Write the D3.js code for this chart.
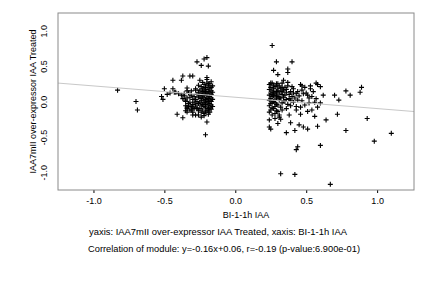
<!DOCTYPE html>
<html>
<head>
<meta charset="utf-8">
<script src="https://cdn.jsdelivr.net/npm/d3@7"></script>
<style>
  body { margin: 0; background: #fff; }
  svg { display: block; font-family: "Liberation Sans", Arial, sans-serif; }
  .tick text, .lbl { font-size: 9px; fill: #000; }
</style>
</head>
<body>
<div id="chart"></div>
<script>
// scatter of module genes: x = BI-1-1h IAA, y = IAA7mII over-expressor IAA Treated
const xTicks = [-1.0, -0.5, 0.0, 0.5, 1.0];
const yTicks = [-1.0, -0.5, 0.0, 0.5, 1.0];
const xTitle = "BI-1-1h IAA";
const yTitle = "IAA7mII over-expressor IAA Treated";
const subLines = [
  "yaxis: IAA7mII over-expressor IAA Treated, xaxis: BI-1-1h IAA",
  "Correlation of module: y=-0.16x+0.06, r=-0.19 (p-value:6.900e-01)"
];
const fitSlope = -0.16;
const fitIntercept = 0.06;

const leftOutliers = [
  [-0.83, 0.16], [-0.70, 0.00], [-0.69, -0.12]
];

const leftCluster = [
  [-0.52, 0.07], [-0.51, 0.03], [-0.50, 0.18], [-0.48, 0.10], [-0.46, 0.12],
  [-0.44, 0.30], [-0.44, 0.18], [-0.43, 0.13], [-0.42, 0.13], [-0.40, 0.11],
  [-0.41, -0.18], [-0.38, 0.30], [-0.37, 0.36], [-0.37, -0.23], [-0.36, 0.11],
  [-0.35, 0.02], [-0.35, -0.06], [-0.34, -0.10], [-0.34, -0.15], [-0.33, -0.03],
  [-0.32, 0.06], [-0.32, 0.36], [-0.31, -0.07], [-0.30, 0.36], [-0.30, -0.19],
  [-0.29, -0.01], [-0.28, 0.16], [-0.27, -0.10], [-0.27, 0.56], [-0.26, -0.19],
  [-0.26, 0.23], [-0.25, 0.30], [-0.24, 0.51], [-0.24, -0.22], [-0.22, 0.60],
  [-0.20, 0.62], [-0.19, 0.50], [-0.20, 0.34], [-0.20, -0.29], [-0.21, -0.47],
  [-0.19, -0.12], [-0.34, 0.19], [-0.34, -0.08], [-0.30, -0.08], [-0.31, -0.12],
  [-0.22, -0.20], [-0.19, 0.25], [-0.20, 0.31],
  [-0.36, 0.08], [-0.34, 0.05], [-0.33, 0.12], [-0.31, 0.09], [-0.30, 0.03],
  [-0.32, -0.01], [-0.35, 0.00], [-0.33, -0.06], [-0.30, -0.04], [-0.29, 0.07],
  [-0.31, 0.15], [-0.34, 0.15], [-0.37, 0.04], [-0.38, 0.09], [-0.32, -0.12],
  [-0.29, -0.10], [-0.35, -0.13], [-0.30, -0.15], [-0.28, -0.19],
  [-0.17, 0.28], [-0.18, 0.25], [-0.19, 0.22], [-0.17, 0.20], [-0.18, 0.18],
  [-0.20, 0.17], [-0.17, 0.15], [-0.19, 0.14], [-0.21, 0.13], [-0.18, 0.12],
  [-0.17, 0.10], [-0.20, 0.09], [-0.22, 0.08], [-0.18, 0.07], [-0.17, 0.05],
  [-0.19, 0.04], [-0.21, 0.03], [-0.18, 0.02], [-0.17, 0.00], [-0.20, -0.01],
  [-0.22, -0.02], [-0.18, -0.03], [-0.17, -0.05], [-0.19, -0.06], [-0.21, -0.08],
  [-0.18, -0.09], [-0.17, -0.11], [-0.20, -0.13], [-0.18, -0.15], [-0.19, -0.18],
  [-0.23, 0.27], [-0.22, 0.24], [-0.24, 0.21], [-0.23, 0.18], [-0.25, 0.16],
  [-0.23, 0.14], [-0.24, 0.11], [-0.22, 0.10], [-0.25, 0.08], [-0.23, 0.06],
  [-0.24, 0.04], [-0.22, 0.01], [-0.25, -0.01], [-0.23, -0.04], [-0.24, -0.06],
  [-0.22, -0.07], [-0.25, -0.10], [-0.23, -0.12], [-0.24, -0.15], [-0.22, -0.17],
  [-0.26, 0.13], [-0.27, 0.10], [-0.26, 0.06], [-0.28, 0.03], [-0.27, 0.00],
  [-0.26, -0.03], [-0.28, -0.05], [-0.27, -0.09], [-0.26, -0.13], [-0.28, 0.18],
  [-0.20, 0.26], [-0.21, 0.20], [-0.20, 0.05], [-0.19, -0.10], [-0.21, -0.15],
  [-0.16, 0.13], [-0.16, 0.03], [-0.16, -0.07], [-0.16, 0.22], [-0.20, 0.11],
  [-0.22, 0.16], [-0.19, 0.00], [-0.21, -0.04], [-0.24, 0.01], [-0.23, 0.09]
];

const rightCluster = [
  [0.26, 0.79], [0.29, 0.56], [0.40, 0.56], [0.27, 0.44], [0.30, 0.38],
  [0.37, 0.46], [0.37, 0.41], [0.25, 0.26], [0.27, 0.23], [0.29, 0.25],
  [0.33, 0.26], [0.34, 0.30], [0.37, 0.27], [0.46, 0.24], [0.47, 0.22],
  [0.49, 0.20], [0.53, 0.18], [0.57, 0.26], [0.58, 0.24], [0.60, 0.21],
  [0.62, 0.09], [0.70, 0.09], [0.73, 0.02], [0.78, 0.15], [0.81, 0.09],
  [0.88, 0.13], [0.89, 0.20], [0.93, -0.24], [0.98, -0.56], [1.10, -0.45],
  [0.78, -0.41], [0.72, -0.18], [0.64, -0.26], [0.60, -0.62], [0.58, -0.35],
  [0.56, -0.21], [0.51, -0.39], [0.48, -0.36], [0.45, -0.33], [0.42, -0.41],
  [0.36, -0.44], [0.44, -0.64], [0.43, -0.68], [0.32, -1.02], [0.42, -1.03],
  [0.67, -1.17], [0.24, -0.36], [0.25, -0.39], [0.24, -0.26], [0.26, -0.19],
  [0.30, -0.31], [0.28, -0.24], [0.31, -0.19], [0.30, -0.14], [0.38, -0.19],
  [0.39, -0.30], [0.43, -0.12], [0.46, -0.18], [0.51, -0.14], [0.54, -0.12],
  [0.58, -0.08], [0.56, -0.01], [0.60, -0.02], [0.52, -0.02], [0.49, -0.05],
  [0.46, -0.08], [0.43, -0.07], [0.41, -0.01], [0.39, 0.02], [0.36, -0.10],
  [0.33, -0.12], [0.51, 0.09], [0.54, 0.07], [0.57, 0.04], [0.44, 0.14],
  [0.41, 0.12], [0.48, 0.11],
  [0.24, 0.24], [0.25, 0.20], [0.24, 0.17], [0.26, 0.15], [0.25, 0.12],
  [0.24, 0.09], [0.26, 0.07], [0.25, 0.04], [0.24, 0.02], [0.26, -0.01],
  [0.25, -0.03], [0.24, -0.06], [0.26, -0.09], [0.25, -0.12], [0.24, -0.15],
  [0.28, 0.21], [0.27, 0.18], [0.29, 0.14], [0.28, 0.11], [0.27, 0.08],
  [0.29, 0.05], [0.28, 0.02], [0.27, 0.00], [0.29, -0.04], [0.28, -0.07],
  [0.27, -0.10], [0.29, -0.13], [0.28, -0.17], [0.31, 0.22], [0.32, 0.18],
  [0.30, 0.15], [0.31, 0.12], [0.33, 0.10], [0.30, 0.07], [0.32, 0.05],
  [0.31, 0.02], [0.33, -0.02], [0.30, -0.05], [0.32, -0.08], [0.31, -0.22],
  [0.32, -0.25], [0.35, 0.20], [0.34, 0.16], [0.36, 0.13], [0.35, 0.09],
  [0.34, 0.06], [0.36, 0.03], [0.35, 0.00], [0.37, -0.04], [0.36, 0.17],
  [0.38, 0.10], [0.39, 0.14], [0.40, 0.07], [0.38, 0.04], [0.41, 0.18],
  [0.42, 0.05], [0.40, 0.21], [0.43, 0.11], [0.44, 0.02], [0.45, 0.08],
  [0.37, 0.22], [0.26, 0.26], [0.30, 0.25], [0.33, 0.20], [0.27, 0.13],
  [0.29, 0.09], [0.33, 0.14], [0.31, 0.05], [0.34, 0.01], [0.28, -0.02],
  [0.26, 0.10], [0.30, 0.19], [0.39, -0.06], [0.47, 0.16], [0.50, 0.12],
  [0.52, 0.05], [0.55, 0.14], [0.47, 0.01], [0.53, 0.22]
];

const width = 432, height = 288;
const plot = { left: 58, right: 414, top: 13, bottom: 190 };

const svg = d3.select("#chart").append("svg")
  .attr("width", width)
  .attr("height", height);

const x = d3.scaleLinear().domain([-1.25, 1.26]).range([plot.left, plot.right]);
const y = d3.scaleLinear().domain([-1.25, 1.25]).range([plot.bottom, plot.top]);

const fmt = d => d.toFixed(1);

// x axis
const xAxis = svg.append("g")
  .attr("transform", `translate(0,${plot.bottom})`)
  .call(d3.axisBottom(x).tickValues(xTicks).tickSize(3).tickPadding(5).tickFormat(fmt));
xAxis.select(".domain").remove();
xAxis.selectAll(".tick line").attr("stroke", "#000");
xAxis.selectAll(".tick text").attr("font-family", null).attr("font-size", null);

// y axis, labels turned like R's default
const yAxis = svg.append("g")
  .attr("transform", `translate(${plot.left},0)`)
  .call(d3.axisLeft(y).tickValues(yTicks).tickSize(0).tickPadding(0).tickFormat(fmt));
yAxis.select(".domain").remove();
yAxis.selectAll(".tick text")
  .attr("font-family", null).attr("font-size", null)
  .attr("x", null).attr("dy", null)
  .attr("text-anchor", "middle")
  .attr("transform", "translate(-11,0) rotate(-90)");

const points = leftOutliers.concat(leftCluster, rightCluster);

svg.append("g").selectAll("path")
  .data(points)
  .enter()
  .append("path")
  .attr("transform", d => `translate(${x(d[0])},${y(d[1])})`)
  .attr("d", "M-2.5,0H2.5M0,-2.5V2.5")
  .attr("stroke", "#000")
  .attr("stroke-width", 1.1)
  .attr("fill", "none");

// regression line
const xd = x.domain();
svg.append("line")
  .attr("x1", x(xd[0])).attr("y1", y(fitSlope * xd[0] + fitIntercept))
  .attr("x2", x(xd[1])).attr("y2", y(fitSlope * xd[1] + fitIntercept))
  .attr("stroke", "#c8c8c8")
  .attr("stroke-width", 1);

svg.append("rect")
  .attr("x", plot.left).attr("y", plot.top)
  .attr("width", plot.right - plot.left)
  .attr("height", plot.bottom - plot.top)
  .attr("fill", "none")
  .attr("stroke", "#8a8a8a")
  .attr("stroke-width", 1);

svg.append("text")
  .attr("class", "lbl")
  .attr("x", 246).attr("y", 218)
  .attr("text-anchor", "middle")
  .text(xTitle);

svg.append("text")
  .attr("class", "lbl")
  .attr("transform", `translate(36,${(plot.top + plot.bottom) / 2}) rotate(-90)`)
  .attr("text-anchor", "middle")
  .text(yTitle);

svg.selectAll(".sub")
  .data(subLines)
  .enter()
  .append("text")
  .attr("class", "lbl sub")
  .attr("x", (d, i) => [89, 88][i])
  .attr("y", (d, i) => 235 + i * 16.5)
  .attr("textLength", (d, i) => [258, 272][i])
  .attr("lengthAdjust", "spacingAndGlyphs")
  .text(d => d);
</script>
</body>
</html>
